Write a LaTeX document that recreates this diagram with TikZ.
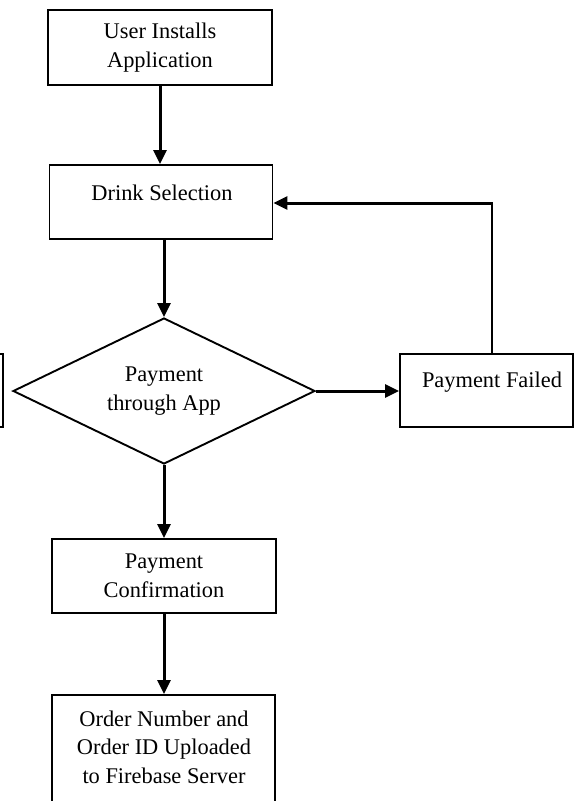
\documentclass[tikz,border=0pt]{standalone}
\usepackage{fontspec}
\setmainfont{Liberation Serif}
\usetikzlibrary{shapes.geometric,arrows.meta}
\begin{document}
\begin{tikzpicture}[x=1pt,y=-1pt,
  box/.style={draw,line width=1.9pt,inner sep=0pt,rectangle},
  lbl/.style={font=\fontsize{22.4}{28.5}\selectfont,align=center,inner sep=0pt},
  flow/.style={line width=3pt,-{Triangle[length=14pt,width=13pt]}},
  back/.style={line width=2pt},
]
\useasboundingbox (0,0) rectangle (575,801);
\clip (0,0) rectangle (575,801);
% boxes
\node[box,lbl,minimum width=224pt,minimum height=75pt] (install) at (160,47.5) {User Installs\\Application};
\node[box,minimum width=223pt,minimum height=74pt] (drink) at (161,202) {};
\node[lbl] (drinkt) at (162,193) {Drink Selection};
\node[draw,line width=1.9pt,shape=diamond,shape aspect=2.07,inner sep=0pt,minimum width=302pt,minimum height=146pt,lbl] (dia) at (164,391) {Payment\\through App};
\node[box,minimum width=106pt,minimum height=73pt] (left) at (-50,390.5) {};
\node[box,minimum width=173pt,minimum height=73pt] (fail) at (486.5,390.5) {};
\node[lbl] (failt) at (492,382) {Payment Failed};
\node[box,lbl,minimum width=224pt,minimum height=74pt] (conf) at (164,576) {Payment\\Confirmation};
\node[box,minimum width=223pt,minimum height=150pt] (order) at (163.5,770) {};
\node[lbl] (ordert) at (164,747) {Order Number and\\Order ID Uploaded\\to Firebase Server};
% connectors
\coordinate (turn) at (492,203);
\draw[flow] (install.south) -- (install.south |- drink.north);
\draw[flow] (drink.south -| dia.north) -- (dia.north);
\draw[flow] (dia.east) -- (dia.east -| fail.west);
\draw[back] (fail.north -| turn) -- (turn);
\draw[flow] ([xshift=1pt]turn) -- (turn -| drink.east);
\draw[flow] (dia.south) -- (conf.north);
\draw[flow] (conf.south) -- (conf.south |- order.north);
\end{tikzpicture}
\end{document}
